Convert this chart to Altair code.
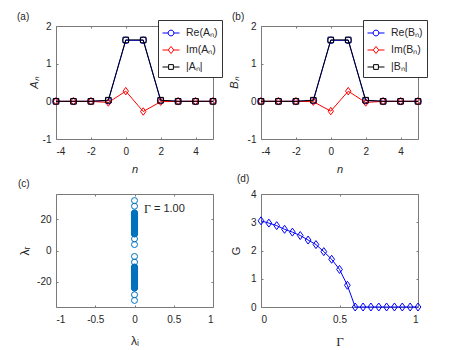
import altair as alt
import pandas as pd

# ---------------- data ----------------
n_vals = [-4, -3, -2, -1, 0, 1, 2, 3, 4, 5]
re_A = [0, 0, 0, 0.02, 1.62, 1.62, 0.02, 0, 0, 0]
im_A = [0, 0, 0, -0.03, 0.27, -0.27, -0.01, 0, 0, 0]
abs_A = [0, 0, 0, 0.03, 1.63, 1.63, 0.03, 0, 0, 0]
re_B = [0, 0, 0, 0.02, 1.62, 1.62, 0.02, 0, 0, 0]
im_B = [0, 0, 0, -0.01, -0.26, 0.27, -0.03, 0, 0, 0]
abs_B = [0, 0, 0, 0.03, 1.63, 1.63, 0.03, 0, 0, 0]

lam_r_pos = [3.8, 7.4,
             10.5, 10.75, 11.0, 11.25, 11.5, 11.75, 12.0, 12.25, 12.5, 12.75, 13.0, 13.25,
             13.5, 13.75, 14.0, 14.25, 14.5, 14.75, 15.0, 15.25, 15.5, 15.75, 16.0, 16.25,
             16.5, 16.75, 17.0, 17.25, 17.5, 17.75, 18.0, 18.25, 18.5, 18.75, 19.0, 19.25,
             19.5, 19.75, 20.0, 20.25, 20.5, 20.75, 21.0, 21.25, 21.5, 21.75, 22.0, 22.25,
             22.5, 22.75, 23.0, 23.25, 23.5, 23.75, 24.0,
             28.2, 31.8]
lam_r_neg = [-3.8, -7.4,
             -10.5, -10.75, -11.0, -11.25, -11.5, -11.75, -12.0, -12.25, -12.5, -12.75,
             -13.0, -13.25, -13.5, -13.75, -14.0, -14.25, -14.5, -14.75, -15.0, -15.25,
             -15.5, -15.75, -16.0, -16.25, -16.5, -16.75, -17.0, -17.25, -17.5, -17.75,
             -18.0, -18.25, -18.5, -18.75, -19.0, -19.25, -19.5, -19.75, -20.0, -20.25,
             -20.5, -20.75, -21.0, -21.25, -21.5, -21.75, -22.0, -22.25, -22.5, -22.75,
             -23.0, -23.25, -23.5, -23.75, -24.0,
             -28.2, -31.8]
lam_r = lam_r_pos + lam_r_neg
lam_i = [0.0] * len(lam_r)

gamma = [0.0, 0.05, 0.1, 0.15, 0.2, 0.25, 0.3, 0.35, 0.4, 0.45, 0.5, 0.55,
         0.6, 0.65, 0.7, 0.75, 0.8, 0.85, 0.9, 0.95, 1.0]
G_vals = [3.05, 2.97, 2.88, 2.75, 2.65, 2.53, 2.37, 2.21, 1.96, 1.69, 1.33, 0.77,
          0, 0, 0, 0, 0, 0, 0, 0, 0]

annot_sym = "Γ"
annot_val = "= 1.00"
annot_x = [0.12]
annot_y = [26.5]

# ---------------- style ----------------
W, H = 157, 113
BOX = "#7a7a7a"
TXT = "#262626"
FONT = "Liberation Sans"
SERIF = "Liberation Serif"
BLUE = "#0000ff"
RED = "#ff0000"
BLACK = "#000000"
MBLUE = "#0072bd"

MINUS = "replace(datum.label, '\u2212', '-')"

TALL_DIAMOND = "M0,-1L0.72,0L0,1L-0.72,0Z"
LEG_CIRCLE = "M-1,0H-0.34M0.34,0H1M-0.34,0A0.34,0.34,0,1,0,0.34,0A0.34,0.34,0,1,0,-0.34,0"
LEG_DIAMOND = "M-1,0H-0.32M0.32,0H1M-0.32,0L0,-0.42L0.32,0L0,0.42Z"
LEG_SQUARE = "M-1,0H-0.28M0.28,0H1M-0.28,-0.28H0.28V0.28H-0.28Z"


def xaxis(values, title, italic=False, font=FONT, tsize=11, tpad=7):
    return alt.Axis(values=values, title=title, format=".1~f", labelExpr=MINUS,
                    labelOverlap=False, labelPadding=7, ticks=False, tickSize=0,
                    domain=False, labelFont=FONT, labelFontSize=10, labelColor=TXT,
                    titlePadding=tpad, titleFont=font, titleFontSize=tsize,
                    titleFontWeight="normal", titleColor=TXT,
                    titleFontStyle="italic" if italic else "normal",
                    grid=True, gridColor=BOX, gridOpacity=1, gridWidth=1,
                    gridDash=[2, H - 4, 2, 400])


def yaxis(values, title, italic=False, font=FONT, tsize=11, tpad=3):
    return alt.Axis(values=values, title=title, format=".1~f", labelExpr=MINUS,
                    labelOverlap=False, labelPadding=5, ticks=False, tickSize=0,
                    domain=False, labelFont=FONT, labelFontSize=10, labelColor=TXT,
                    titlePadding=tpad, titleFont=font, titleFontSize=tsize,
                    titleFontWeight="normal", titleColor=TXT,
                    titleFontStyle="italic" if italic else "normal",
                    grid=True, gridColor=BOX, gridOpacity=1, gridWidth=1,
                    gridDash=[2, W - 4, 2, 400])


def panel_title(label, dx, offset):
    return alt.TitleParams(label, anchor="start", frame="group", dx=dx, offset=offset,
                           fontSize=10, font=FONT, fontWeight="normal", color=TXT)


def field_panel(re, im, ab, sym, label, dx, offset, ytpad):
    names = ["Re(%s)" % sym, "Im(%s)" % sym, "|%s|" % sym]
    df = pd.DataFrame({
        "n": n_vals * 3,
        "v": re + im + ab,
        "s": [names[0]] * len(n_vals) + [names[1]] * len(n_vals) + [names[2]] * len(n_vals),
    })
    x = alt.X("n:Q", scale=alt.Scale(domain=[-4, 5], nice=False),
              axis=xaxis([-4, -2, 0, 2, 4], "n", italic=True, tpad=7))
    y = alt.Y("v:Q", scale=alt.Scale(domain=[-1, 2], nice=False),
              axis=yaxis([-1, 0, 1, 2], sym, italic=True, tpad=ytpad))
    base = alt.Chart(df).encode(x=x, y=y)
    layers = []
    specs = [(names[0], BLUE, "circle", 42), (names[1], RED, TALL_DIAMOND, 56),
             (names[2], BLACK, "square", 32)]
    for nm, col, shp, sz in specs:
        sub = base.transform_filter(alt.datum.s == nm)
        layers.append(sub.mark_line(color=col, strokeWidth=1))
        layers.append(sub.mark_point(shape=shp, size=sz, filled=False, color=col,
                                     strokeWidth=1, opacity=1))
    leg = alt.Legend(orient="none", legendX=102, legendY=-6, title=None,
                     fillColor="white", strokeColor="#333333", padding=4,
                     symbolSize=289, symbolStrokeWidth=1, labelFont=FONT,
                     labelFontSize=10.5, labelColor=TXT, labelOffset=6,
                     rowPadding=2, symbolFillColor="transparent")
    ghost = base.transform_filter("false").mark_point(filled=False, opacity=1).encode(
        shape=alt.Shape("s:N", scale=alt.Scale(domain=names,
                                               range=[LEG_CIRCLE, LEG_DIAMOND, LEG_SQUARE]),
                        legend=leg),
        color=alt.Color("s:N", scale=alt.Scale(domain=names, range=[BLUE, RED, BLACK]),
                        legend=leg),
    )
    layers.append(ghost)
    return alt.layer(*layers).properties(width=W, height=H,
                                         title=panel_title(label, dx, offset))


panel_a = field_panel(re_A, im_A, abs_A, "A\u2099", "(a)", -39, -2.5, 3)
panel_b = field_panel(re_B, im_B, abs_B, "B\u2099", "(b)", -29, -2.5, 8)

# panel c
c_x = alt.X("li:Q", scale=alt.Scale(domain=[-1, 1], nice=False),
            axis=xaxis([-1, -0.5, 0, 0.5, 1], "λ\u1d62", tsize=12, tpad=11))
c_y = alt.Y("lr:Q", scale=alt.Scale(domain=[-36, 36], nice=False),
            axis=yaxis([-20, 0, 20], "λ\u1d63", tsize=12, tpad=5))
df_c = pd.DataFrame({"li": lam_i, "lr": lam_r})
c_pts = alt.Chart(df_c).mark_point(shape="circle", size=36, filled=False, color=MBLUE,
                                    strokeWidth=1, opacity=1).encode(x=c_x, y=c_y)
df_t = pd.DataFrame({"li": annot_x, "lr": annot_y, "a": [annot_sym], "b": [annot_val]})
c_sym = alt.Chart(df_t).mark_text(align="left", baseline="middle", font=SERIF,
                                  fontSize=12, color=TXT).encode(x=c_x, y=c_y, text="a:N")
c_val = alt.Chart(df_t).mark_text(align="left", baseline="middle", font=FONT,
                                  fontSize=11, color=TXT, dx=10).encode(x=c_x, y=c_y,
                                                                        text="b:N")
panel_c = alt.layer(c_pts, c_sym, c_val).properties(
    width=W, height=H, title=panel_title("(c)", -38, 5))

# panel d
df_d = pd.DataFrame({"g": gamma, "G": G_vals})
d_base = alt.Chart(df_d).encode(
    x=alt.X("g:Q", scale=alt.Scale(domain=[0, 1], nice=False),
            axis=xaxis([0, 0.5, 1], "Γ", font=SERIF, tsize=13, tpad=11)),
    y=alt.Y("G:Q", scale=alt.Scale(domain=[0, 4], nice=False),
            axis=yaxis([0, 1, 2, 3, 4], "G", tsize=11, tpad=9)),
)
panel_d = alt.layer(
    d_base.mark_line(color=BLUE, strokeWidth=1),
    d_base.mark_point(shape=TALL_DIAMOND, size=64, filled=False, color=BLUE,
                      strokeWidth=1, opacity=1),
).properties(width=W, height=H, title=panel_title("(d)", -24, 5.5))

chart = alt.concat(panel_a, panel_b, panel_c, panel_d, columns=2,
                   spacing={"row": 55, "column": 48}, bounds="flush").resolve_scale(
    color="independent", shape="independent", x="independent", y="independent"
).properties(
    padding={"left": 8, "top": 3, "right": 5, "bottom": 5}, background="white"
).configure_view(
    stroke=BOX, strokeWidth=1
).configure_axis(
    domain=False, ticks=False, tickSize=0, labelFont=FONT, labelFontSize=10,
    labelColor=TXT, titleColor=TXT, titleFontWeight="normal", gridColor=BOX,
    gridWidth=1, gridOpacity=1
)

chart.save("out.html", embed_options={"renderer": "svg", "actions": False})
